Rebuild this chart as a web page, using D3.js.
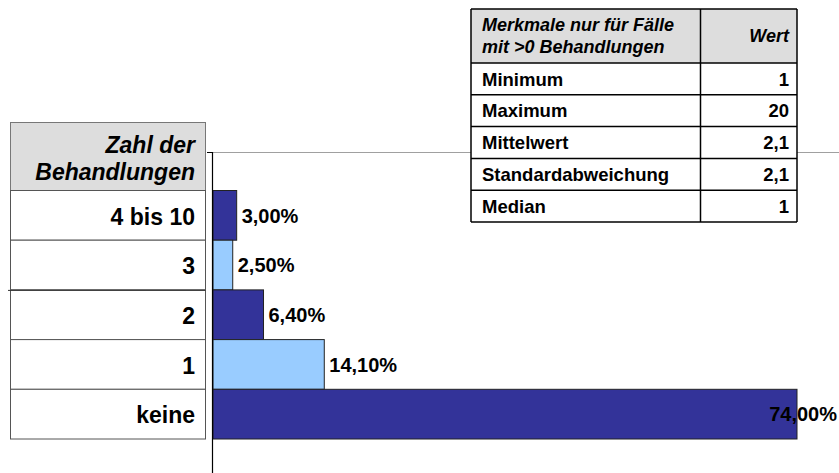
<!DOCTYPE html>
<html><head><meta charset="utf-8">
<script src="https://cdn.jsdelivr.net/npm/d3@7"></script>
<style>
html,body{margin:0;padding:0;background:#fff;}
svg{display:block;font-family:"Liberation Sans",Arial,sans-serif;}
</style></head>
<body>
<svg id="c" width="839" height="473"></svg>
<script>
// ---- data ----
const categories = ["4 bis 10", "3", "2", "1", "keine"];
const percentValues = [3.0, 2.5, 6.4, 14.1, 74.0];
const barColors = ["#333399", "#99ccff", "#333399", "#99ccff", "#333399"];
const categoryHeader = ["Zahl der", "Behandlungen"];
const statHeader = ["Merkmale nur für Fälle", "mit >0 Behandlungen"];
const statValueHeader = "Wert";
const statNames = ["Minimum", "Maximum", "Mittelwert", "Standardabweichung", "Median"];
const statValues = ["1", "20", "2,1", "2,1", "1"];

const svg = d3.select("#c");
const fmt = v => d3.format(".2f")(v).replace(".", ",") + "%";

// ---- scales ----
const x = d3.scaleLinear().domain([0, 74]).range([213, 797]);
const y = d3.scaleBand().domain(categories).range([190.5, 439]).padding(0);

// plot area top border (gray)
svg.append("line").attr("x1", 212).attr("x2", 839).attr("y1", 152.5).attr("y2", 152.5)
  .attr("stroke", "#a0a0a0").attr("stroke-width", 1.2);

// ---- left category table ----
const lt = {x0: 10.5, x1: 205.5, top: 122.5};
const lg = svg.append("g");
lg.append("rect").attr("x", lt.x0).attr("y", lt.top).attr("width", lt.x1 - lt.x0)
  .attr("height", y.range()[0] - lt.top).attr("fill", "#dddddd").attr("stroke", "#777");
lg.selectAll("rect.row").data(categories).join("rect").attr("class", "row")
  .attr("x", lt.x0).attr("y", d => y(d)).attr("width", lt.x1 - lt.x0).attr("height", y.bandwidth())
  .attr("fill", "#fff").attr("stroke", "#555");
lg.append("text").attr("text-anchor", "end").attr("font-weight", "bold").attr("font-style", "italic")
  .attr("font-size", 23).selectAll("tspan").data(categoryHeader).join("tspan")
  .attr("x", 195).attr("y", (d, i) => 153 + i * 26.5).text(d => d);
lg.selectAll("text.cat").data(categories).join("text").attr("class", "cat")
  .attr("x", 195).attr("y", d => y(d) + y.bandwidth() / 2).attr("dy", "0.4em")
  .attr("text-anchor", "end").attr("font-weight", "bold").attr("font-size", 23).text(d => d);
// stray line
svg.append("line").attr("x1", 8).attr("x2", lt.x1).attr("y1", y("2") + 0.5).attr("y2", y("2") + 0.5)
  .attr("stroke", "#333");

// ---- bars ----
const data = categories.map((c, i) => ({c, v: percentValues[i], col: barColors[i]}));
svg.append("g").selectAll("rect").data(data).join("rect")
  .attr("x", x(0)).attr("y", d => y(d.c)).attr("width", d => x(d.v) - x(0)).attr("height", y.bandwidth())
  .attr("fill", d => d.col).attr("stroke", "#222").attr("stroke-width", 1);

// value axis (vertical line)
svg.append("line").attr("x1", 212.5).attr("x2", 212.5).attr("y1", 152).attr("y2", 473)
  .attr("stroke", "#000").attr("stroke-width", 1.2);
svg.append("line").attr("x1", 207).attr("x2", 212.5).attr("y1", 152.5).attr("y2", 152.5)
  .attr("stroke", "#000");

// bar labels (last one pushed inside the chart's right edge)
const labelMax = 837;
svg.append("g").selectAll("text").data(data).join("text")
  .attr("x", d => x(d.v) + 70 > labelMax ? labelMax : x(d.v) + 5)
  .attr("text-anchor", d => x(d.v) + 70 > labelMax ? "end" : "start")
  .attr("y", d => y(d.c) + y.bandwidth() / 2).attr("dy", "0.36em")
  .attr("font-weight", "bold").attr("font-size", 20).attr("fill", "#000").text(d => fmt(d.v));

// ---- right stats table ----
const rt = {x0: 471, xm: 700.5, x1: 797, top: 9, headBottom: 63, bottom: 222};
const rowH = (rt.bottom - rt.headBottom) / statNames.length;
const rg = svg.append("g");
rg.append("rect").attr("x", rt.x0).attr("y", rt.top).attr("width", rt.x1 - rt.x0)
  .attr("height", rt.headBottom - rt.top).attr("fill", "#dddddd");
rg.append("rect").attr("x", rt.x0).attr("y", rt.headBottom).attr("width", rt.x1 - rt.x0)
  .attr("height", rt.bottom - rt.headBottom).attr("fill", "#fff");
const hl = [rt.top, rt.headBottom].concat(statNames.map((d, i) => rt.headBottom + (i + 1) * rowH));
rg.selectAll("line.h").data(hl).join("line").attr("class", "h")
  .attr("x1", rt.x0).attr("x2", rt.x1).attr("y1", d => d).attr("y2", d => d)
  .attr("stroke", "#000").attr("stroke-width", 1.5);
rg.selectAll("line.v").data([rt.x0, rt.xm, rt.x1]).join("line").attr("class", "v")
  .attr("x1", d => d).attr("x2", d => d).attr("y1", rt.top).attr("y2", rt.bottom)
  .attr("stroke", "#000").attr("stroke-width", 1.5);
rg.append("text").attr("font-weight", "bold").attr("font-style", "italic").attr("font-size", 18)
  .selectAll("tspan").data(statHeader).join("tspan")
  .attr("x", 482).attr("y", (d, i) => 31 + i * 22).text(d => d);
rg.append("text").attr("x", 789).attr("y", 42).attr("text-anchor", "end")
  .attr("font-weight", "bold").attr("font-style", "italic").attr("font-size", 18).text(statValueHeader);
rg.selectAll("text.sn").data(statNames).join("text").attr("class", "sn")
  .attr("x", 482).attr("y", (d, i) => rt.headBottom + (i + 0.5) * rowH).attr("dy", "0.36em")
  .attr("font-weight", "bold").attr("font-size", 18.5).text(d => d);
rg.selectAll("text.sv").data(statValues).join("text").attr("class", "sv")
  .attr("x", 789).attr("y", (d, i) => rt.headBottom + (i + 0.5) * rowH).attr("dy", "0.36em")
  .attr("text-anchor", "end").attr("font-weight", "bold").attr("font-size", 18.5).text(d => d);
</script>
</body></html>
